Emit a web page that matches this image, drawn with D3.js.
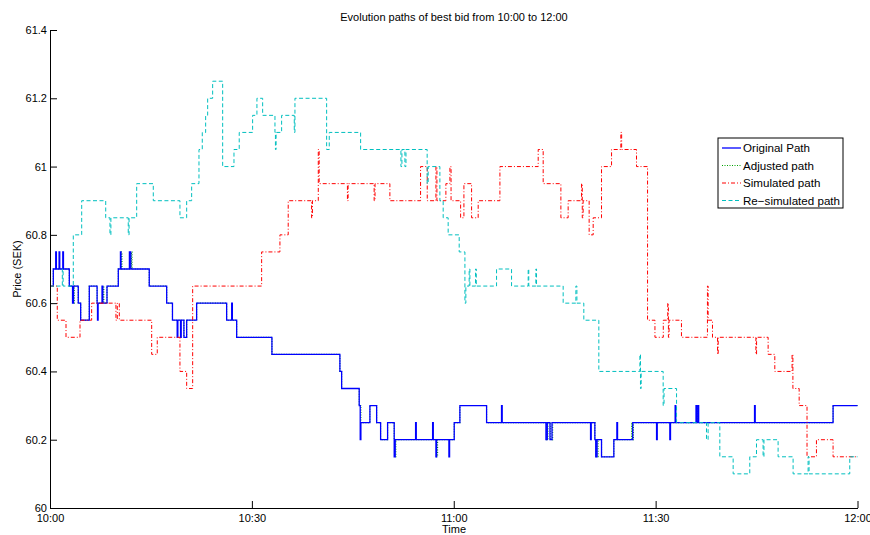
<!DOCTYPE html>
<html>
<head>
<meta charset="utf-8">
<script src="https://cdn.jsdelivr.net/npm/d3@7"></script>
<style>
  html, body { margin: 0; padding: 0; background: #fff; }
  svg { display: block; font-family: "Liberation Sans", Arial, Helvetica, sans-serif; }
</style>
</head>
<body>
<svg id="chart" width="870" height="535"></svg>
<script>
// Best-bid paths, step points: [minutes after 10:00, price in SEK]
const originalPath = [
  [0,60.65],[0.49,60.70],[0.85,60.75],[0.95,60.70],[1.35,60.75],[1.45,60.70],[1.9,60.75],[2.0,60.70],
  [2.87,60.65],[3.35,60.60],[3.5,60.65],[4.2,60.60],[4.56,60.55],[5.84,60.65],[7.0,60.60],[7.06,60.55],
  [7.15,60.60],[7.73,60.65],[7.85,60.60],[8.47,60.65],[10.15,60.70],[10.47,60.75],[10.55,60.70],
  [11.8,60.75],[12.0,60.70],[14.75,60.65],[17.34,60.60],[18.2,60.55],[18.9,60.50],[19.0,60.55],
  [19.4,60.50],[19.5,60.55],[19.9,60.50],[20.31,60.55],[21.79,60.60],[26.25,60.55],[27.0,60.60],
  [27.1,60.55],[27.74,60.50],[32.98,60.45],[43.08,60.40],[43.34,60.35],[45.95,60.30],[46.1,60.20],
  [46.2,60.25],[47.54,60.30],[48.54,60.25],[49.13,60.20],[50.17,60.25],[51.15,60.15],[51.3,60.20],
  [54.33,60.25],[54.43,60.20],[56.86,60.25],[56.96,60.20],[57.35,60.15],[57.45,60.20],[59.28,60.15],
  [59.38,60.20],[60.07,60.25],[60.91,60.30],[64.88,60.25],[67.1,60.30],[67.2,60.25],[73.7,60.20],
  [73.9,60.25],[74.3,60.20],[74.6,60.25],[80.33,60.20],[80.43,60.25],[80.97,60.20],[81.1,60.15],
  [81.3,60.20],[81.96,60.15],[83.79,60.20],[84.24,60.25],[84.34,60.20],[86.6,60.25],[90.14,60.20],
  [90.24,60.25],[92.11,60.20],[92.21,60.25],[92.9,60.30],[93.0,60.25],[96.0,60.30],[96.1,60.25],
  [96.3,60.30],[96.4,60.25],[104.7,60.30],[104.8,60.25],[116.37,60.30],[120,60.30]
];

const adjustedPath = [
  [0,60.65],[0.49,60.70],[2.87,60.65],[3.42,60.60],[3.6,60.65],[4.2,60.60],[4.56,60.55],[5.84,60.65],
  [7.0,60.60],[7.9,60.65],[8.0,60.60],[8.47,60.65],[10.15,60.70],[10.6,60.75],[10.7,60.70],[12.1,60.75],
  [12.2,60.70],[14.75,60.65],[17.34,60.60],[18.2,60.55],[19.9,60.50],[20.31,60.55],[21.79,60.60],
  [26.25,60.55],[27.74,60.50],[32.98,60.45],[43.08,60.40],[43.34,60.35],[45.95,60.30],[46.2,60.25],
  [47.54,60.30],[48.54,60.25],[49.13,60.20],[50.17,60.25],[51.15,60.20],[51.2,60.15],[51.4,60.20],
  [57.45,60.15],[57.6,60.20],[60.07,60.25],[60.91,60.30],[64.88,60.25],[73.8,60.20],[74.0,60.25],
  [74.4,60.20],[74.7,60.25],[80.97,60.20],[81.2,60.15],[81.45,60.20],[81.96,60.15],[83.79,60.20],
  [86.45,60.25],[86.5,60.20],[86.7,60.25],[96.2,60.30],[96.35,60.25],[116.37,60.30],[120,60.30]
];

const simulatedPath = [
  [0,60.65],[1.08,60.55],[2.38,60.50],[4.46,60.55],[6.19,60.60],[9.8,60.55],[10.0,60.60],[10.3,60.55],
  [15.11,60.45],[15.94,60.50],[19.31,60.40],[20.31,60.35],[21.2,60.65],[31.45,60.75],[34.17,60.80],
  [35.4,60.90],[38.87,60.85],[39.0,60.90],[39.87,61.05],[40.0,60.95],[44.2,60.90],[44.3,60.95],
  [48.17,60.90],[48.3,60.95],[50.51,60.90],[55.07,61.00],[56.06,60.90],[57.35,61.00],[57.5,60.90],
  [58.83,60.95],[59.43,61.00],[59.6,60.90],[61.02,60.85],[61.51,60.95],[62.65,60.85],[63.63,60.90],
  [66.86,61.00],[72.55,61.05],[73.29,60.95],[75.92,60.85],[77.0,60.90],[78.99,60.95],[79.1,60.85],
  [79.23,60.90],[80.12,60.80],[80.72,60.85],[81.96,61.00],[83.45,61.05],[84.83,61.10],[84.95,61.05],
  [87.16,61.00],[88.8,60.55],[89.9,60.50],[91.14,60.55],[91.8,60.60],[91.9,60.50],[92.0,60.55],
  [93.84,60.50],[97.7,60.65],[97.8,60.55],[98.45,60.50],[99.2,60.45],[99.3,60.50],[104.9,60.45],
  [105.0,60.50],[106.72,60.45],[107.71,60.40],[110.28,60.45],[110.4,60.35],[111.33,60.30],
  [112.5,60.15],[113.9,60.20],[116.37,60.15],[120,60.15]
];

const resimulatedPath = [
  [0,60.65],[1.83,60.70],[1.95,60.65],[3.46,60.80],[4.71,60.90],[8.28,60.85],[8.91,60.80],[9.05,60.85],
  [11.63,60.80],[11.75,60.85],[12.88,60.95],[15.35,60.90],[19.31,60.85],[20.31,60.90],[21.05,60.95],
  [22.14,61.05],[22.63,61.10],[23.13,61.15],[23.43,61.20],[24.17,61.25],[25.66,61.00],[27.34,61.05],
  [28.12,61.10],[30.11,61.15],[30.75,61.20],[31.6,61.15],[33.43,61.10],[33.5,61.05],[33.6,61.10],
  [34.42,61.15],[36.3,61.10],[36.4,61.20],[41.11,61.05],[41.5,61.10],[46.16,61.05],[52.15,61.00],
  [52.3,61.05],[52.74,61.00],[52.9,61.05],[56.05,60.95],[56.2,61.00],[57.94,60.90],[58.43,60.85],
  [59.17,60.80],[60.81,60.75],[61.66,60.60],[61.8,60.65],[62.29,60.70],[62.4,60.65],[63.24,60.70],
  [63.35,60.65],[66.36,60.70],[68.59,60.65],[71.06,60.70],[71.15,60.65],[72.2,60.70],[72.3,60.65],
  [76.26,60.60],[78.15,60.65],[78.3,60.60],[79.33,60.55],[81.56,60.40],[87.66,60.45],[87.75,60.35],
  [87.85,60.40],[91.12,60.30],[91.25,60.35],[93.11,60.25],[97.56,60.20],[97.8,60.25],[99.54,60.15],
  [101.52,60.10],[103.99,60.15],[104.99,60.20],[105.97,60.15],[106.1,60.20],[108.2,60.15],
  [110.43,60.10],[112.66,60.15],[112.8,60.10],[118.85,60.15],[120,60.15]
];

const seriesNames = ["Original Path", "Adjusted path", "Simulated path", "Re\u2212simulated path"];
const xTickValues = [0, 30, 60, 90, 120];
const xTickLabels = ["10:00", "10:30", "11:00", "11:30", "12:00"];
const yTickValues = [60, 60.2, 60.4, 60.6, 60.8, 61, 61.2, 61.4];
const yTickLabels = ["60", "60.2", "60.4", "60.6", "60.8", "61", "61.2", "61.4"];

const titleText = "Evolution paths of best bid from 10:00 to 12:00";
const xLabel = "Time";
const yLabel = "Price (SEK)";

// Layout
const plot = { left: 50, right: 857.5, top: 30, bottom: 508 };
const svg = d3.select("#chart");

const x = d3.scaleLinear().domain([0, 120]).range([plot.left, plot.right]);
const y = d3.scaleLinear().domain([60, 61.4]).range([plot.bottom, plot.top]);

const styles = [
  { color: "#0000ff", dash: null,        width: 1.3 },
  { color: "#00a000", dash: "1,1.5",     width: 1.1 },
  { color: "#ff0000", dash: "4,2,1,2",   width: 1.0 },
  { color: "#00bfbf", dash: "4,2.5",     width: 1.0 }
];

const line = d3.line()
  .x(d => x(d[0]))
  .y(d => y(d[1]))
  .curve(d3.curveStepAfter);

const g = svg.append("g");

// Draw order: adjusted underneath original, then simulated and re-simulated on top
const drawOrder = [
  { data: adjustedPath, s: styles[1] },
  { data: originalPath, s: styles[0] },
  { data: simulatedPath, s: styles[2] },
  { data: resimulatedPath, s: styles[3] }
];
drawOrder.forEach(o => {
  g.append("path")
    .datum(o.data)
    .attr("fill", "none")
    .attr("stroke", o.s.color)
    .attr("stroke-width", o.s.width)
    .attr("stroke-dasharray", o.s.dash)
    .attr("d", line);
});

// Axes with inward ticks
const yAxis = d3.axisLeft(y)
  .tickValues(yTickValues)
  .tickFormat((d, i) => yTickLabels[i])
  .tickSizeInner(-7)
  .tickSizeOuter(0)
  .tickPadding(3);
const xAxis = d3.axisBottom(x)
  .tickValues(xTickValues)
  .tickFormat((d, i) => xTickLabels[i])
  .tickSizeInner(-7)
  .tickSizeOuter(0)
  .tickPadding(6);

const ya = svg.append("g").attr("transform", `translate(${plot.left},0)`).call(yAxis);
const xa = svg.append("g").attr("transform", `translate(0,${plot.bottom})`).call(xAxis);
[ya, xa].forEach(a => {
  a.selectAll("path.domain").attr("stroke", "#000").attr("stroke-width", 1);
  a.selectAll(".tick line").attr("stroke", "#000").attr("stroke-width", 1);
  a.selectAll(".tick text").attr("fill", "#000").attr("font-size", 11)
    .attr("font-family", "Liberation Sans, Arial, sans-serif");
});

// Titles
svg.append("text")
  .attr("x", 454).attr("y", 21)
  .attr("text-anchor", "middle")
  .attr("font-size", 11)
  .text(titleText);
svg.append("text")
  .attr("x", 454).attr("y", 533)
  .attr("text-anchor", "middle")
  .attr("font-size", 11)
  .text(xLabel);
svg.append("text")
  .attr("transform", "translate(21,269) rotate(-90)")
  .attr("text-anchor", "middle")
  .attr("font-size", 11)
  .text(yLabel);

// Legend
const legend = svg.append("g").attr("transform", "translate(718,138)");
legend.append("rect")
  .attr("width", 125).attr("height", 70)
  .attr("fill", "#fff").attr("stroke", "#000").attr("stroke-width", 1);
seriesNames.forEach((name, i) => {
  const cy = 10 + i * 17.5;
  legend.append("line")
    .attr("x1", 4).attr("x2", 23).attr("y1", cy).attr("y2", cy)
    .attr("stroke", styles[i].color)
    .attr("stroke-width", styles[i].width)
    .attr("stroke-dasharray", styles[i].dash);
  legend.append("text")
    .attr("x", 25).attr("y", cy + 4)
    .attr("font-size", 11.6)
    .text(name);
});
</script>
</body>
</html>
